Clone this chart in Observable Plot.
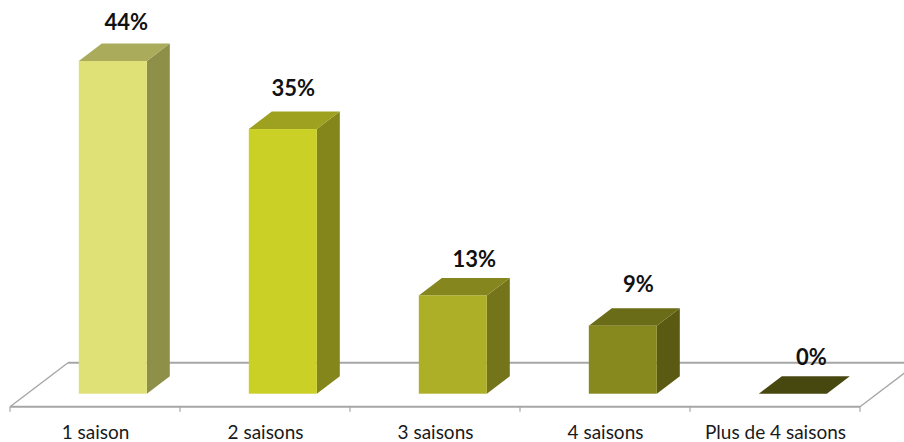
<!DOCTYPE html>
<html>
<head>
<meta charset="utf-8">
<script src="https://cdn.jsdelivr.net/npm/d3@7"></script>
<script src="https://cdn.jsdelivr.net/npm/@observablehq/plot@0.6"></script>
<style>html,body{margin:0;padding:0;background:#fff}svg{display:block}</style>
</head>
<body>
<div id="chart"></div>
<script>
const categories = ["1 saison", "2 saisons", "3 saisons", "4 saisons", "Plus de 4 saisons"];
const values = [44, 35, 13, 9, 0];
const labels = ["44%", "35%", "13%", "9%", "0%"];
const frontColors = ["#DFE176", "#CAD026", "#ADAF26", "#87881E", "#5A5B15"];
const sideColors = ["#8E8F48", "#84851A", "#74751A", "#5A5A12", "#474810"];
const topColors = ["#ABAC5B", "#9EA120", "#85861D", "#6B6C17", "#474810"];
const labelDx = [13, 10, 21, 15, 18];
const labelDy = [-38.5, -40.5, -35.5, -41.5, -36.5];

const rows = categories.map((category, i) => ({category, value: values[i], label: labels[i], i}));
const depthX = 23, depthY = -17.5, insetL = 68.8, insetR = 33.2;
const NS = "http://www.w3.org/2000/svg";

function poly(parent, pts, fill) {
  const p = document.createElementNS(NS, "polygon");
  p.setAttribute("points", pts.map(d => d.join(",")).join(" "));
  p.setAttribute("fill", fill);
  parent.appendChild(p);
}
function seg(parent, x1, y1, x2, y2, w) {
  const l = document.createElementNS(NS, "line");
  for (const [k, v] of Object.entries({x1, y1, x2, y2})) l.setAttribute(k, v);
  l.setAttribute("stroke", "#A6A6A6");
  l.setAttribute("stroke-width", w);
  parent.appendChild(l);
}
function bandStep(scales) { return scales.x(categories[1]) - scales.x(categories[0]); }
function floorMark(index, scales) {
  const g = document.createElementNS(NS, "g");
  const y0 = scales.y(0), front = y0 + 13, back = y0 - 31;
  const left = scales.x(categories[0]);
  const right = scales.x(categories[categories.length - 1]) + bandStep(scales);
  const shift = 58;
  seg(g, left, front, right, front, 2);
  seg(g, left + shift, back, right + shift, back, 2);
  seg(g, left, front, left + shift, back, 1.4);
  seg(g, right, front, right + shift, back, 1.4);
  categories.forEach(c => seg(g, scales.x(c), front, scales.x(c), front + 5, 1.2));
  seg(g, right, front, right, front + 5, 1.2);
  return g;
}
function facesMark(index, scales) {
  const g = document.createElementNS(NS, "g");
  rows.forEach(r => {
    const xa = scales.x(r.category) + insetL;
    const xb = scales.x(r.category) + bandStep(scales) - insetR;
    const y0 = scales.y(0), yt = scales.y(r.value);
    if (r.value > 0) poly(g, [[xb, yt], [xb + depthX, yt + depthY], [xb + depthX, y0 + depthY], [xb, y0]], sideColors[r.i]);
    poly(g, [[xa, yt], [xa + depthX, yt + depthY], [xb + depthX, yt + depthY], [xb, yt]], topColors[r.i]);
  });
  return g;
}
const labelShift = insetL + (170 - insetL - insetR) / 2 - 85;

const plot = Plot.plot({
  width: 904,
  height: 442,
  marginTop: 0,
  marginRight: 0,
  marginBottom: 18,
  marginLeft: 0,
  style: {background: "#fff", fontFamily: "Lato, sans-serif", overflow: "hidden"},
  x: {type: "band", domain: categories, range: [10, 860], padding: 0, label: null},
  y: {domain: [0, 44], range: [393.7, 61], axis: null, label: null},
  marks: [
    floorMark,
    facesMark,
    Plot.barY(rows, {
      x: "category", y: "value",
      insetLeft: insetL, insetRight: insetR,
      fill: d => frontColors[d.i]
    }),
    Plot.axisX({tickSize: 0, tickPadding: 1, fontSize: 19, fill: "#1a1a1a", label: null}),
    ...rows.map(r => Plot.text([r], {
      x: "category", y: "value", text: "label",
      dx: labelShift + labelDx[r.i], dy: labelDy[r.i],
      fontSize: 22, fontWeight: 700, fill: "#111"
    }))
  ]
});
document.getElementById("chart").appendChild(plot);
</script>
</body>
</html>
